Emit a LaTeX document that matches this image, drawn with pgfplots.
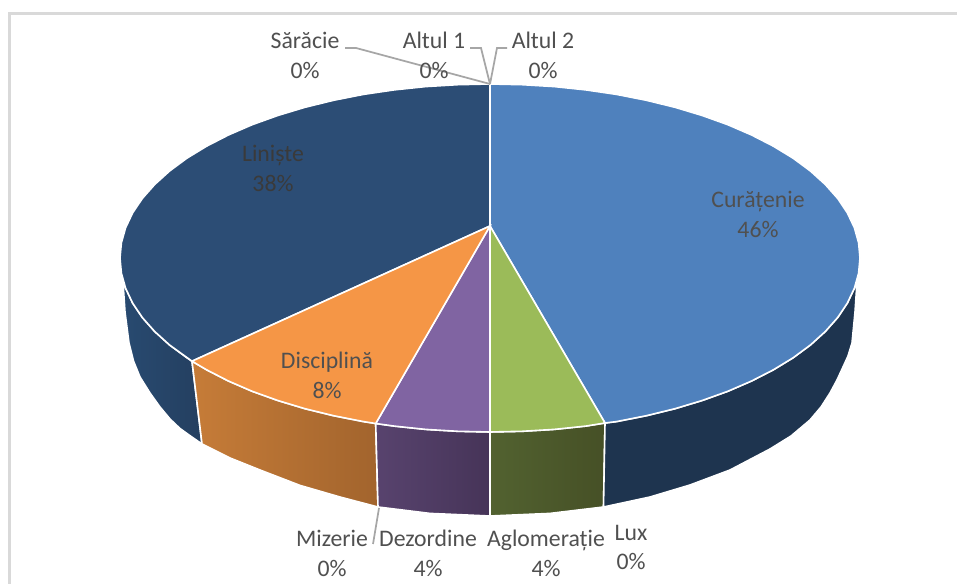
\documentclass[border=0pt]{standalone}
\usepackage{pgfplots}
\usepackage{fontspec}
\setmainfont{Carlito}
\pgfplotsset{compat=1.18}
\definecolor{txt}{HTML}{505050}
\definecolor{lead}{HTML}{A6A6A6}
\tikzset{lab/.style={font=\fontsize{17.8}{20}\selectfont,text=txt,inner sep=0pt,anchor=center,text height=15.8pt,text depth=3pt}}
\begin{document}
\begin{tikzpicture}
\begin{axis}[scale only axis,width=717.75pt,height=438pt,xmin=0,xmax=957,ymin=0,ymax=584,y dir=reverse,hide axis,clip=true]
% page
\addplot[draw=none,fill=white] coordinates {(0,0)(957,0)(957,584)(0,584)} --cycle;
% frame
\addplot[draw={rgb,255:red,217;green,217;blue,217},line width=1.6pt] coordinates {(9.5,584)(9.5,13.5)(957,13.5)};
% Liniste side
\addplot[draw=white,line width=1.2pt,left color={rgb,255:red,40;green,74;blue,112},right color={rgb,255:red,36;green,63;blue,96}] coordinates {(192,361.2)(186.9,357.8)(169.6,345)(154.7,331.5)(142.3,317.5)(132.6,303)(125.6,288.2)(123,282)(125,312)(129,343)(133.5,361)(140,377)(150,393)(160,407)(170,419)(180,428.5)(190,435.7)(202,444)} --cycle;
% Disciplina side
\addplot[draw=white,line width=1.2pt,left color={rgb,255:red,198;green,124;blue,56},right color={rgb,255:red,162;green,100;blue,45}] coordinates {(192,361.2)(206.6,369.8)(228.4,381)(252.2,391.3)(277.8,400.5)(305,408.7)(333.6,415.7)(363.5,421.6)(375.7,423.5)(378,507)(340,497)(300,485.4)(260,470)(230,458)(202,444)} --cycle;
% Dezordine side
\addplot[draw=white,line width=1.2pt,left color={rgb,255:red,88;green,67;blue,110},right color={rgb,255:red,70;green,52;blue,88}] coordinates {(375.7,423.5)(394.2,426.1)(425.7,429.4)(457.7,431.3)(490,432)(490,516)(430,513.4)(378,507)} --cycle;
% Aglomeratie side
\addplot[draw=white,line width=1.2pt,left color={rgb,255:red,82;green,98;blue,48},right color={rgb,255:red,70;green,80;blue,38}] coordinates {(490,432)(522.3,431.3)(554.3,429.4)(585.8,426.1)(605,423)(603.5,507)(550,513.4)(490,516)} --cycle;
% Curatenie side
\addplot[draw=white,line width=1.2pt,fill={rgb,255:red,30;green,52;blue,79}] coordinates {(605,423)(616.5,421.6)(646.4,415.7)(675,408.7)(702.2,400.5)(727.8,391.3)(751.6,381)(773.4,369.8)(793.1,357.8)(810.4,345)(825.3,331.5)(837.7,317.5)(847.4,303)(854.4,288.2)(857,282)(855,312)(852,343)(848,356)(843,367)(837,380)(830,393)(821,407)(810,420)(791,436)(770,449)(730,470)(690,485)(650,497)(603.5,507)} --cycle;
% tops
\addplot[draw=white,line width=1.2pt,fill={rgb,255:red,44;green,77;blue,117}] coordinates {(490,226)(192,361.2)(169.6,345)(154.7,331.5)(142.3,317.5)(132.6,303)(125.6,288.2)(121.4,273.2)(120,258)(121.4,242.8)(125.6,227.8)(132.6,213)(142.3,198.5)(154.7,184.5)(169.6,171)(186.9,158.2)(206.6,146.2)(228.4,135)(252.2,124.7)(277.8,115.5)(305,107.3)(333.6,100.3)(363.5,94.4)(394.2,89.9)(425.7,86.6)(457.7,84.7)(490,84)} --cycle;
\addplot[draw=white,line width=1.2pt,fill={rgb,255:red,79;green,129;blue,189}] coordinates {(490,226)(490,84)(522.3,84.7)(554.3,86.6)(585.8,89.9)(616.5,94.4)(646.4,100.3)(675,107.3)(702.2,115.5)(727.8,124.7)(751.6,135)(773.4,146.2)(793.1,158.2)(810.4,171)(825.3,184.5)(837.7,198.5)(847.4,213)(854.4,227.8)(858.6,242.8)(860,258)(858.6,273.2)(854.4,288.2)(847.4,303)(837.7,317.5)(825.3,331.5)(810.4,345)(793.1,357.8)(773.4,369.8)(751.6,381)(727.8,391.3)(702.2,400.5)(675,408.7)(646.4,415.7)(616.5,421.6)(605,423)} --cycle;
\addplot[draw=white,line width=1.2pt,fill={rgb,255:red,155;green,187;blue,89}] coordinates {(490,226)(605,423)(585.8,426.1)(554.3,429.4)(522.3,431.3)(490,432)} --cycle;
\addplot[draw=white,line width=1.2pt,fill={rgb,255:red,128;green,100;blue,162}] coordinates {(490,226)(490,432)(457.7,431.3)(425.7,429.4)(394.2,426.1)(375.7,423.5)} --cycle;
\addplot[draw=white,line width=1.2pt,fill={rgb,255:red,245;green,150;blue,70}] coordinates {(490,226)(375.7,423.5)(363.5,421.6)(333.6,415.7)(305,408.7)(277.8,400.5)(252.2,391.3)(228.4,381)(206.6,369.8)(192,361.2)} --cycle;
% leaders
\addplot[draw=lead,line width=1.3pt] coordinates {(345,48)(356,48)(490,84)};
\addplot[draw=lead,line width=1.3pt] coordinates {(470,48)(481,48)(490,84)};
\addplot[draw=lead,line width=1.3pt] coordinates {(507,48)(497,48)(490,84)};
\addplot[draw=lead,line width=1.3pt] coordinates {(379,508)(373,544)};
% labels
\node[lab] at (axis cs:305,40) {Sărăcie}; \node[lab] at (axis cs:305,70) {0\%};
\node[lab] at (axis cs:434,40) {Altul 1}; \node[lab] at (axis cs:434,70) {0\%};
\node[lab] at (axis cs:543,40) {Altul 2}; \node[lab] at (axis cs:543,70) {0\%};
\node[lab] at (axis cs:758,199) {Curățenie}; \node[lab] at (axis cs:758,229) {46\%};
\node[lab,text={rgb,255:red,58;green,58;blue,58}] at (axis cs:273,153) {Liniște}; \node[lab,text={rgb,255:red,58;green,58;blue,58}] at (axis cs:273,183) {38\%};
\node[lab] at (axis cs:327,360) {Disciplină}; \node[lab] at (axis cs:327,390) {8\%};
\node[lab] at (axis cs:332,538) {Mizerie}; \node[lab] at (axis cs:332,568) {0\%};
\node[lab] at (axis cs:428,538) {Dezordine}; \node[lab] at (axis cs:428,568) {4\%};
\node[lab] at (axis cs:546,538) {Aglomerație}; \node[lab] at (axis cs:546,568) {4\%};
\node[lab] at (axis cs:631,532) {Lux}; \node[lab] at (axis cs:631,561) {0\%};
\end{axis}
\end{tikzpicture}
\end{document}
